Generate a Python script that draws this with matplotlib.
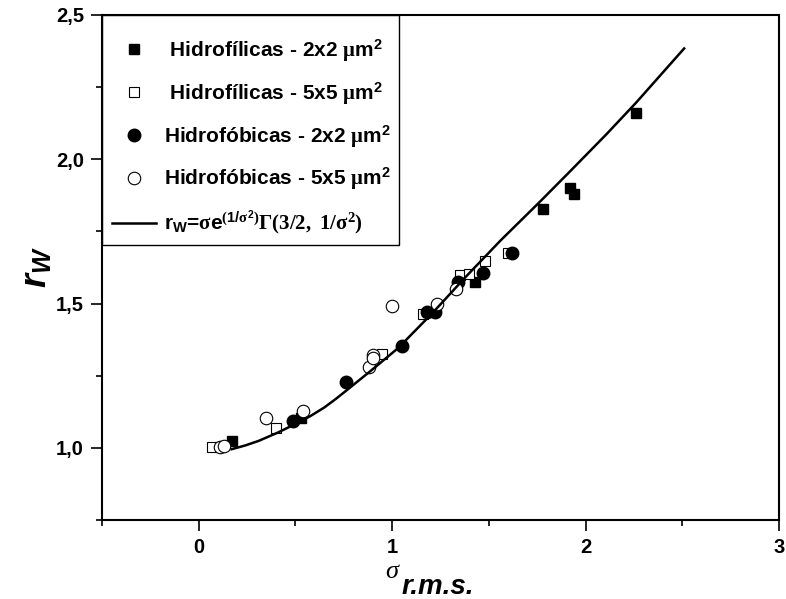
import numpy as np
import matplotlib
matplotlib.use("Agg")
import matplotlib.pyplot as plt
from matplotlib.patches import Rectangle
from matplotlib.ticker import MultipleLocator, FuncFormatter

plt.rcParams['font.family'] = ['Liberation Sans', 'DejaVu Sans']
plt.rcParams['font.weight'] = 'bold'
plt.rcParams['mathtext.fontset'] = 'custom'
plt.rcParams['mathtext.rm'] = 'Liberation Serif'
plt.rcParams['mathtext.it'] = 'Liberation Serif:italic'
plt.rcParams['mathtext.bf'] = 'Liberation Sans:bold'
plt.rcParams['mathtext.bfit'] = 'Liberation Sans:bold:italic'

# Hidrofilicas 2x2
hfil2_x = [0.17, 0.53, 1.43, 1.78, 1.92, 1.94, 2.26]
hfil2_y = [1.024, 1.104, 1.574, 1.829, 1.899, 1.880, 2.160]
# Hidrofilicas 5x5
hfil5_x = [0.07, 0.40, 0.95, 1.16, 1.35, 1.40, 1.48, 1.60]
hfil5_y = [1.003, 1.068, 1.326, 1.462, 1.600, 1.603, 1.646, 1.674]
# Hidrofobicas 2x2
hfob2_x = [0.49, 0.76, 1.05, 1.18, 1.22, 1.34, 1.47, 1.62]
hfob2_y = [1.094, 1.227, 1.354, 1.469, 1.469, 1.576, 1.607, 1.674]
# Hidrofobicas 5x5
hfob5_x = [0.11, 0.13, 0.35, 0.54, 0.88, 0.90, 0.90, 1.00, 1.23, 1.33]
hfob5_y = [1.003, 1.007, 1.104, 1.128, 1.281, 1.323, 1.312, 1.493, 1.500, 1.549]

# model curve
curve_x = [0.17, 0.24, 0.31, 0.41, 0.51, 0.58, 0.65, 0.71, 0.77, 0.89, 1.03, 1.21, 1.38,
           1.56, 1.76, 1.92, 2.11, 2.26, 2.51]
curve_y = [0.995, 1.008, 1.024, 1.053, 1.086, 1.111, 1.140, 1.170, 1.202, 1.267, 1.345, 1.468, 1.592,
           1.718, 1.850, 1.958, 2.088, 2.195, 2.384]

fig = plt.figure(figsize=(7.86, 5.99), dpi=100)
ax = fig.add_axes([0.1298, 0.132, 0.8612, 0.843])

ax.plot(hfil2_x, hfil2_y, 's', color='black', ms=7,
        label=' Hidrofílicas - 2x2 $\\mathrm{\\mu}$m$^{\\mathbf{2}}$')
ax.plot(hfil5_x, hfil5_y, 's', mfc='white', mec='black', mew=0.8, ms=7,
        label=' Hidrofílicas - 5x5 $\\mathrm{\\mu}$m$^{\\mathbf{2}}$')
ax.plot(hfob2_x, hfob2_y, 'o', color='black', ms=9,
        label='Hidrofóbicas - 2x2 $\\mathrm{\\mu}$m$^{\\mathbf{2}}$')
ax.plot(hfob5_x, hfob5_y, 'o', mfc='white', mec='black', mew=0.8, ms=9,
        label='Hidrofóbicas - 5x5 $\\mathrm{\\mu}$m$^{\\mathbf{2}}$')
ax.plot(curve_x, curve_y, '-', color='black', lw=1.8,
        label='r$_{\\mathbf{W}}$=$\\mathrm{\\sigma}$e$^{(\\mathbf{1/}\\mathrm{\\sigma}^{\\mathbf{2}})}$'
              '$\\mathrm{\\Gamma(3/2,\\ 1/\\sigma^2)}$')

ax.set_xlim(-0.5, 3)
ax.set_ylim(0.75, 2.5)
ax.xaxis.set_major_locator(MultipleLocator(1))
ax.xaxis.set_minor_locator(MultipleLocator(0.5))
ax.yaxis.set_major_locator(MultipleLocator(0.5))
ax.yaxis.set_minor_locator(MultipleLocator(0.25))
ax.yaxis.set_major_formatter(FuncFormatter(lambda v, p: f"{v:.1f}".replace('.', ',')))
ax.xaxis.set_major_formatter(FuncFormatter(lambda v, p: f"{v:.0f}"))

ax.tick_params(which='major', direction='out', length=8, width=1.2, labelsize=14.5, pad=5)
ax.tick_params(which='minor', direction='out', length=4, width=1.2)
for s in ax.spines.values():
    s.set_linewidth(1.5)

# axis titles
ax.text(0.418, -0.103, '\u03c3', transform=ax.transAxes, fontsize=19, fontweight='normal',
        family='Liberation Serif', style='italic', ha='left', va='center')
ax.text(0.442, -0.133, 'r.m.s.', transform=ax.transAxes, fontsize=20, fontweight='bold',
        style='italic', ha='left', va='center')
ax.set_ylabel('$\\mathbfit{r}_{\\mathbfit{W}}$', fontsize=26, labelpad=1)

leg = ax.legend(loc='upper left', bbox_to_anchor=(0.0148, 0.955), frameon=False,
                fontsize=15, handlelength=2.1, handletextpad=0.4, labelspacing=0.8,
                borderpad=0, borderaxespad=0, numpoints=1)

# legend frame
fig.canvas.draw()
bb = leg.get_window_extent()
inv = ax.transAxes.inverted()
x1, y0 = inv.transform((bb.x1 + 8, bb.y0 - 7))
ax.add_patch(Rectangle((0, y0), x1, 1 - y0, transform=ax.transAxes, fill=False,
                       edgecolor='black', lw=1.0, zorder=5, clip_on=False))

fig.savefig('out.png', dpi=100)
